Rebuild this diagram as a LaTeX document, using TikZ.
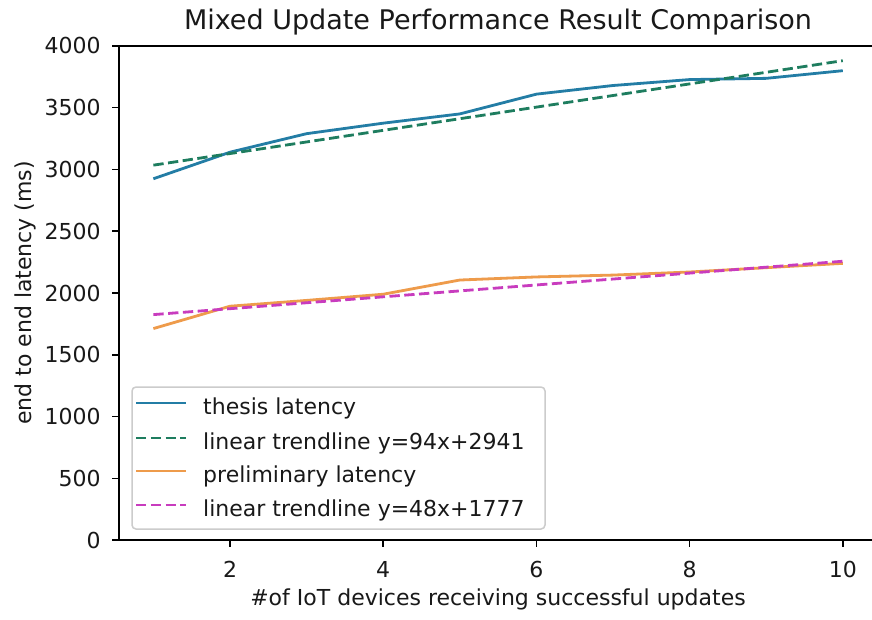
\documentclass[tikz,border=0pt]{standalone}
\usepackage{fontspec}
\setmainfont{DejaVu Sans}
\definecolor{thesisc}{RGB}{35,125,165}
\definecolor{trendAc}{RGB}{30,125,95}
\definecolor{prelimc}{RGB}{238,155,75}
\definecolor{trendBc}{RGB}{200,60,190}
\definecolor{framec}{RGB}{204,204,204}
\begin{document}
\begin{tikzpicture}[x=1pt,y=-1pt,
  ticklab/.style={font=\fontsize{22}{26}\selectfont, text=black!90, inner sep=0pt},
  lab/.style={font=\fontsize{22}{26}\selectfont, text=black!90, inner sep=0pt},
  titlelab/.style={font=\fontsize{27}{32}\selectfont, text=black!90, inner sep=0pt},
  tickline/.style={line width=1.5pt, black},
  spine/.style={line width=1.5pt, black},
  series/.style={line width=2.8pt, line join=round},
  dashser/.style={line width=2.8pt, dash pattern=on 10.3pt off 4.5pt},
  thesisline/.style={series, thesisc},
  trendAline/.style={dashser, trendAc},
  prelimline/.style={series, prelimc},
  trendBline/.style={dashser, trendBc},
  legendbox/.style={draw=framec, line width=1.5pt, fill=white, rounded corners=4pt,
     minimum width=413pt, minimum height=142pt, inner sep=0pt}
]
\useasboundingbox (0,0) rectangle (872,619);
\fill[white] (0,0) rectangle (872,619);

\node[titlelab] (title) at (498,22) {Mixed Update Performance Result Comparison};
\node[lab, rotate=90] (ylab) at (25,293) {end to end latency (ms)};
\node[lab] (xlab) at (498,599) {\#of IoT devices receiving successful updates};

\begin{scope}[shift={(76.8,540)}, x=76.6pt, y=0.1235pt]
  % data
  \draw[thesisline] plot coordinates {(1,2925) (2,3140) (3,3290) (4,3375) (5,3450) (6,3610) (7,3680) (8,3728) (9,3738) (10,3800)};
  \coordinate (tA1) at (1,3035); \coordinate (tA2) at (10,3881);
  \draw[trendAline] (tA1) -- (tA2);
  \draw[prelimline] plot coordinates {(1,1712) (2,1893) (3,1940) (4,1990) (5,2105) (6,2130) (7,2145) (8,2170) (9,2205) (10,2240)};
  \coordinate (tB1) at (1,1825); \coordinate (tB2) at (10,2257);
  \draw[trendBline] (tB1) -- (tB2);
  % axes
  \coordinate (axLL) at (0.55,0); \coordinate (axUR) at (10.45,4000);
  \draw[spine] (axLL) rectangle (axUR);
  \foreach \v in {0,500,...,4000} {
    \draw[tickline] (0.55,\v) -- ++(-6.5pt,0pt);
    \node[ticklab, anchor=east] (yt\v) at ([xshift=-18pt]0.55,\v) {\v};
  }
  \foreach \u in {2,4,6,8,10} {
    \draw[tickline] (\u,0) -- ++(0pt,-6.5pt);
    \node[ticklab, anchor=north] (xt\u) at ([yshift=-21pt]\u,0) {\u};
  }
\end{scope}

% legend
\node[legendbox] (legend) at (338.5,458) {};
\coordinate (la1) at (136,403); \coordinate (lb1) at (186,403);
\coordinate (la2) at (136,438); \coordinate (lb2) at (186,438);
\coordinate (la3) at (136,471); \coordinate (lb3) at (186,471);
\coordinate (la4) at (136,505); \coordinate (lb4) at (186,505);
\draw[thesisline] (la1) -- (lb1);
\draw[trendAline] (la2) -- (lb2);
\draw[prelimline] (la3) -- (lb3);
\draw[trendBline] (la4) -- (lb4);
\node[lab, anchor=base west] (lt1) at (203,414.5) {thesis latency};
\node[lab, anchor=base west] (lt2) at (203,449.5) {linear trendline y=94x+2941};
\node[lab, anchor=base west] (lt3) at (203,482.5) {preliminary latency};
\node[lab, anchor=base west] (lt4) at (203,516.5) {linear trendline y=48x+1777};
\end{tikzpicture}
\end{document}
